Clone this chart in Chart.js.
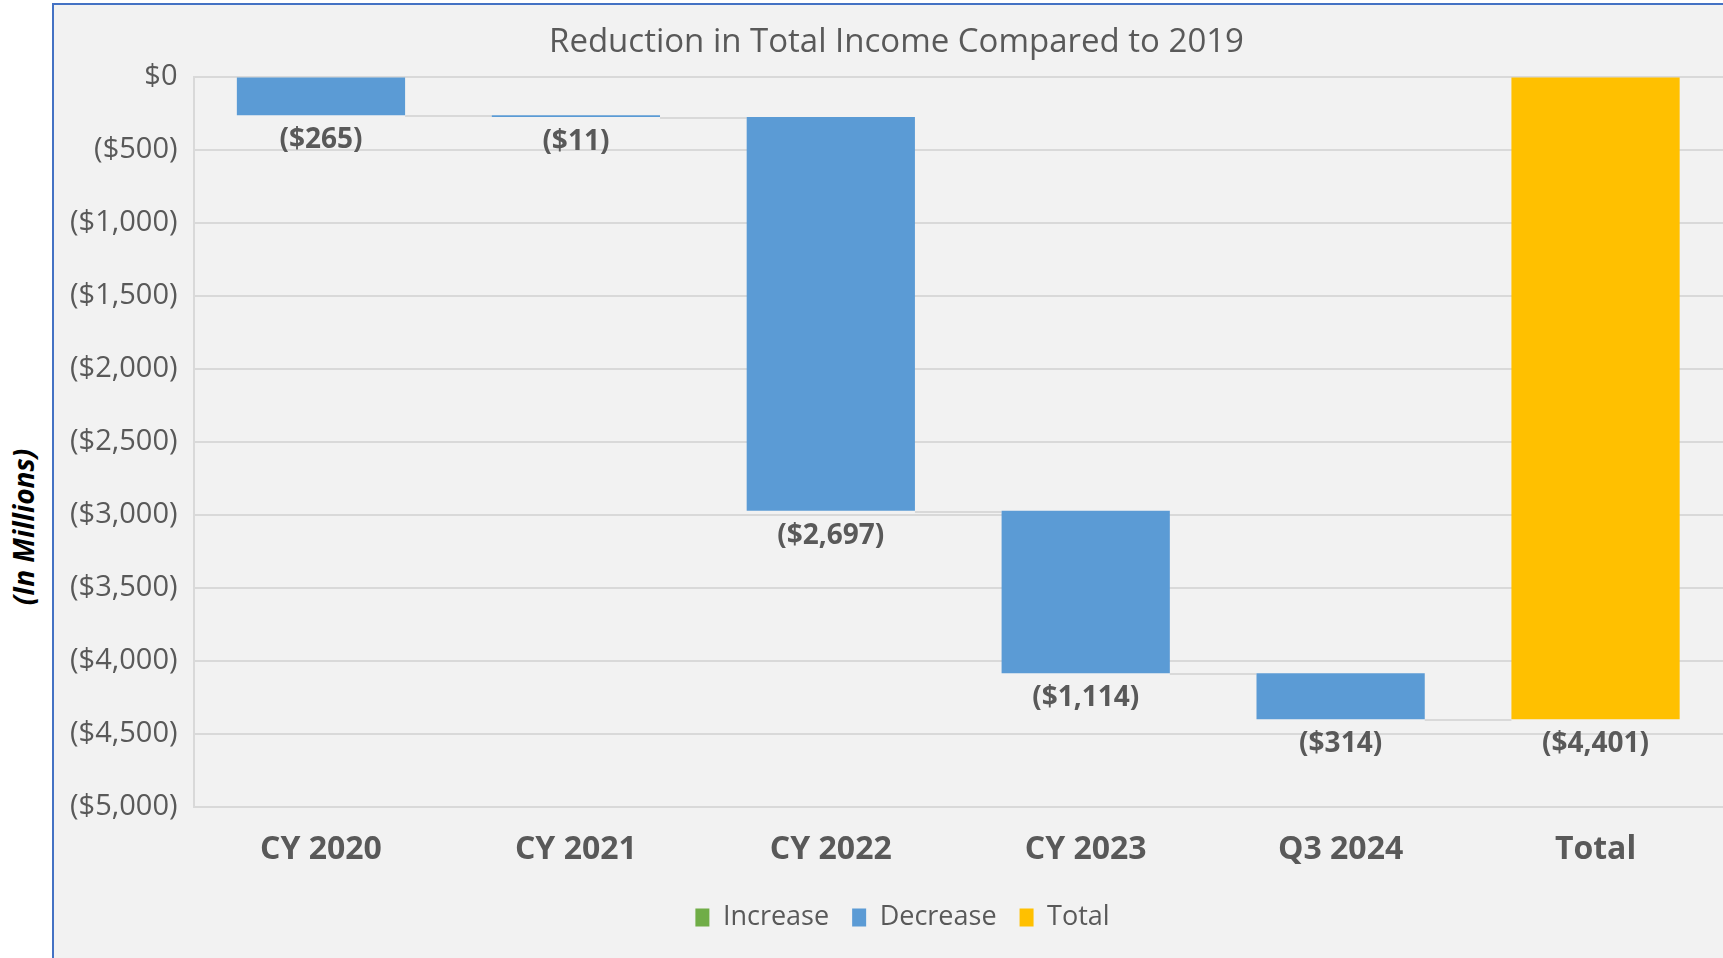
<!DOCTYPE html>
<html>
<head>
<meta charset="utf-8">
<script src="https://cdn.jsdelivr.net/npm/chart.js@4"></script>
<style>
  html, body { margin: 0; padding: 0; background: #fff; }
  body { width: 1723px; height: 958px; position: relative; overflow: hidden; font-family: "Open Sans", sans-serif; }
  #box { position: absolute; left: 52px; top: 3px; width: 1669px; height: 953px;
         border-left: 2px solid #4472c4; border-top: 2px solid #4472c4; background: #f2f2f2; }
  #wrap { position: absolute; left: 0; top: 0; width: 1669px; height: 953px; }
  #ylabel { position: absolute; left: 23px; top: 527px; transform: translate(-50%, -50%) rotate(-90deg);
            font: italic bold 28px "Open Sans", sans-serif; white-space: nowrap; color: #000; }
</style>
</head>
<body>
<div id="ylabel">(In Millions)</div>
<div id="box"><div id="wrap"><canvas id="myChart"></canvas></div></div>
<script>
const categories = ["CY 2020", "CY 2021", "CY 2022", "CY 2023", "Q3 2024", "Total"];
const changes = [-265, -11, -2697, -1114, -314];
const total = -4401;
const yTicks = [0, -500, -1000, -1500, -2000, -2500, -3000, -3500, -4000, -4500, -5000];

const textColor = "#595959";
const gridColor = "#d9d9d9";

// running start/end of each step
const starts = [];
const ends = [];
let level = 0;
changes.forEach((v) => {
	starts.push(level);
	level += v;
	ends.push(level);
});

const increaseData = changes.map((v, i) => (v > 0 ? [starts[i], ends[i]] : null)).concat([null]);
const decreaseData = changes.map((v, i) => (v < 0 ? [starts[i], ends[i]] : null)).concat([null]);
const totalData = changes.map(() => null).concat([[0, total]]);

function money(v) {
	const s = "$" + Math.abs(v).toLocaleString("en-US");
	return v < 0 ? "(" + s + ")" : s;
}

function barAt(chart, i) {
	for (let d = 0; d < chart.data.datasets.length; d++) {
		if (chart.data.datasets[d].data[i] == null) continue;
		return chart.getDatasetMeta(d).data[i];
	}
	return null;
}

// the source chart is cropped on the right, so title and legend sit right of centre
const nudge = {
	id: "nudge",
	afterLayout(chart) {
		if (chart.titleBlock) {
			chart.titleBlock.left += 8;
			chart.titleBlock.right += 8;
		}
		if (chart.legend) {
			chart.legend.left += 14;
			chart.legend.right += 14;
		}
	},
};

// grey connector lines between the steps
const connectors = {
	id: "connectors",
	beforeDatasetsDraw(chart) {
		const ctx = chart.ctx;
		const y = chart.scales.y;
		ctx.save();
		ctx.strokeStyle = gridColor;
		ctx.lineWidth = 2;
		for (let i = 0; i < categories.length - 1; i++) {
			const a = barAt(chart, i);
			const b = barAt(chart, i + 1);
			if (!a || !b) continue;
			const py = Math.round(y.getPixelForValue(ends[i])) + 1;
			ctx.beginPath();
			ctx.moveTo(a.x + a.width / 2, py);
			ctx.lineTo(b.x - b.width / 2, py);
			ctx.stroke();
		}
		ctx.restore();
	},
};

// value labels under each bar
const valueLabels = {
	id: "valueLabels",
	afterDatasetsDraw(chart) {
		const ctx = chart.ctx;
		ctx.save();
		ctx.font = "bold 28px 'Open Sans', sans-serif";
		ctx.fillStyle = textColor;
		ctx.textAlign = "center";
		ctx.textBaseline = "middle";
		categories.forEach((c, i) => {
			const bar = barAt(chart, i);
			if (!bar) return;
			const v = i < changes.length ? changes[i] : total;
			const bottom = Math.max(bar.y, bar.base);
			ctx.fillText(money(v), bar.x, bottom + 25);
		});
		ctx.restore();
	},
};

const ctx = document.getElementById("myChart");

new Chart(ctx, {
	type: "bar",
	data: {
		labels: categories,
		datasets: [
			{ label: "Increase", data: increaseData, backgroundColor: "#70ad47", grouped: false },
			{ label: "Decrease", data: decreaseData, backgroundColor: "#5b9bd5", grouped: false },
			{ label: "Total", data: totalData, backgroundColor: "#ffc000", grouped: false },
		],
	},
	options: {
		responsive: true,
		maintainAspectRatio: false,
		animation: false,
		categoryPercentage: 1,
		barPercentage: 0.66,
		layout: { padding: { left: 0, right: 0, top: 0, bottom: 17 } },
		plugins: {
			title: {
				display: true,
				text: "Reduction in Total Income Compared to 2019",
				color: textColor,
				font: { family: "'Open Sans', sans-serif", size: 33, weight: "normal" },
				padding: { top: 18, bottom: 14 },
			},
			legend: {
				position: "bottom",
				labels: {
					color: textColor,
					font: { family: "'Open Sans', sans-serif", size: 27 },
					boxWidth: 14,
					boxHeight: 18,
					padding: 23,
				},
			},
			tooltip: { enabled: false },
		},
		scales: {
			x: {
				grid: { display: false },
				border: { display: true, color: gridColor, width: 2 },
				ticks: {
					color: textColor,
					padding: 16,
					font: { family: "'Open Sans', sans-serif", size: 32, weight: "bold" },
				},
				afterFit: (scale) => {
					scale.height -= 4;
				},
			},
			y: {
				min: -5000,
				max: 0,
				afterBuildTicks: (axis) => {
					axis.ticks = yTicks.map((v) => ({ value: v }));
				},
				grid: { color: gridColor, lineWidth: 2, drawTicks: false },
				border: { display: true, color: gridColor, width: 2 },
				ticks: {
					color: textColor,
					padding: 16,
					font: { family: "'Open Sans', sans-serif", size: 29 },
					callback: (v) => money(v),
				},
			},
		},
	},
	plugins: [nudge, connectors, valueLabels],
});
</script>
</body>
</html>
